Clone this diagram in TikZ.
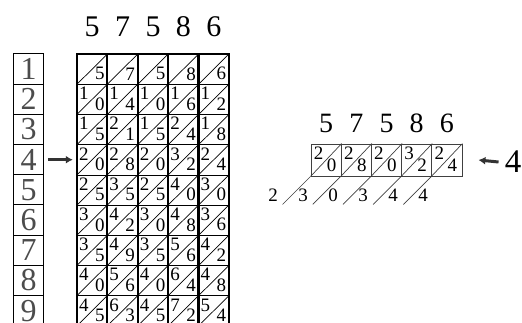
\documentclass[tikz,border=0pt]{standalone}
\usepackage{fontspec}
\setmainfont{Liberation Serif}
\usepackage{tikz}
\usetikzlibrary{arrows.meta,positioning,calc}

\begin{document}
\begin{tikzpicture}[x=1pt,y=-1pt,>=Latex,
  cell/.style={minimum width=30.4pt,minimum height=30.2pt,inner sep=0pt},
  scell/.style={minimum width=30.2pt,minimum height=32pt,inner sep=0pt},
  idx/.style={draw,line width=1pt,minimum width=29.5pt,minimum height=30.2pt,inner sep=0pt,
    text=black!70,font=\fontsize{32}{32}\selectfont},
  dig/.style={inner sep=0pt,font=\fontsize{19}{19}\selectfont},
  head/.style={inner sep=0pt,font=\fontsize{30}{30}\selectfont},
  bone/.style={line width=2.2pt},
  fat/.style={line width=3pt,black!80,-{Latex[length=7pt,width=8pt]}}]
  \clip (0,0) rectangle (522,323);
  % index rods
  \foreach \r in {1,...,9}
    \node[idx] (i\r) at (28.5,{54+30.2*(\r-0.5)}) {\r};
  % the bones for 57586
  \foreach \d [count=\c] in {5,7,5,8,6} {
    \node[head] (h\c) at ({77+30.4*(\c-0.5)},27) {\d};
    \foreach \r in {1,...,9} {
      \pgfmathtruncatemacro\prod{\d*\r}
      \pgfmathtruncatemacro\tens{\prod/10}
      \pgfmathtruncatemacro\units{\prod-10*\tens}
      \node[cell] (c\c-\r) at ({77+30.4*(\c-0.5)},{54+30.2*(\r-0.5)}) {};
      \draw[line width=0.7pt] (c\c-\r.south west) -- (c\c-\r.north east);
      \draw[line width=0.9pt] (c\c-\r.south west) -- (c\c-\r.south east);
      \ifnum\tens>0
        \node[dig] (t\c-\r) at ([xshift=7pt,yshift=-9.5pt]c\c-\r.north west) {\tens};
      \fi
      \node[dig] (u\c-\r) at ([xshift=23pt,yshift=-20pt]c\c-\r.north west) {\units};
    }
    \draw[bone] (c\c-1.north west) -- (c\c-9.south west);
  }
  \draw[bone] (c1-1.north west) rectangle (c5-9.south east);
  \draw[fat] ([xshift=4pt]i4.east) -- ([xshift=-4pt]c1-4.west);
  % row 4 read off
  \foreach \d/\p [count=\c] in {5/20,7/28,5/20,8/32,6/24} {
    \pgfmathtruncatemacro\tens{\p/10}
    \pgfmathtruncatemacro\units{\p-10*\tens}
    \node[scell,draw=black!75,line width=0.9pt] (s\c) at ({311+30.2*(\c-0.5)},160) {};
    \node[head,font=\fontsize{28}{28}\selectfont] (k\c) at ([yshift=37pt]s\c.center) {\d};
    \draw[black!75,line width=0.7pt] (s\c.south west) -- (s\c.north east);
    \draw[black!75,line width=0.7pt] (s\c.south west) -- ++(-28,28);
    \node[dig] (ts\c) at ([xshift=8pt,yshift=-10pt]s\c.north west) {\tens};
    \node[dig] (us\c) at ([xshift=21pt,yshift=-22pt]s\c.north west) {\units};
  }
  \foreach \v [count=\i] in {2,3,0,3,4,4}
    \node[dig] (res\i) at ({273+30*(\i-1)},195) {\v};
  \node[head,font=\fontsize{33}{33}\selectfont] (mult) at (513,162) {4};
  \draw[fat] ([xshift=-6pt]mult.west) -- ([xshift=16pt]s5.east);
\end{tikzpicture}
\end{document}
